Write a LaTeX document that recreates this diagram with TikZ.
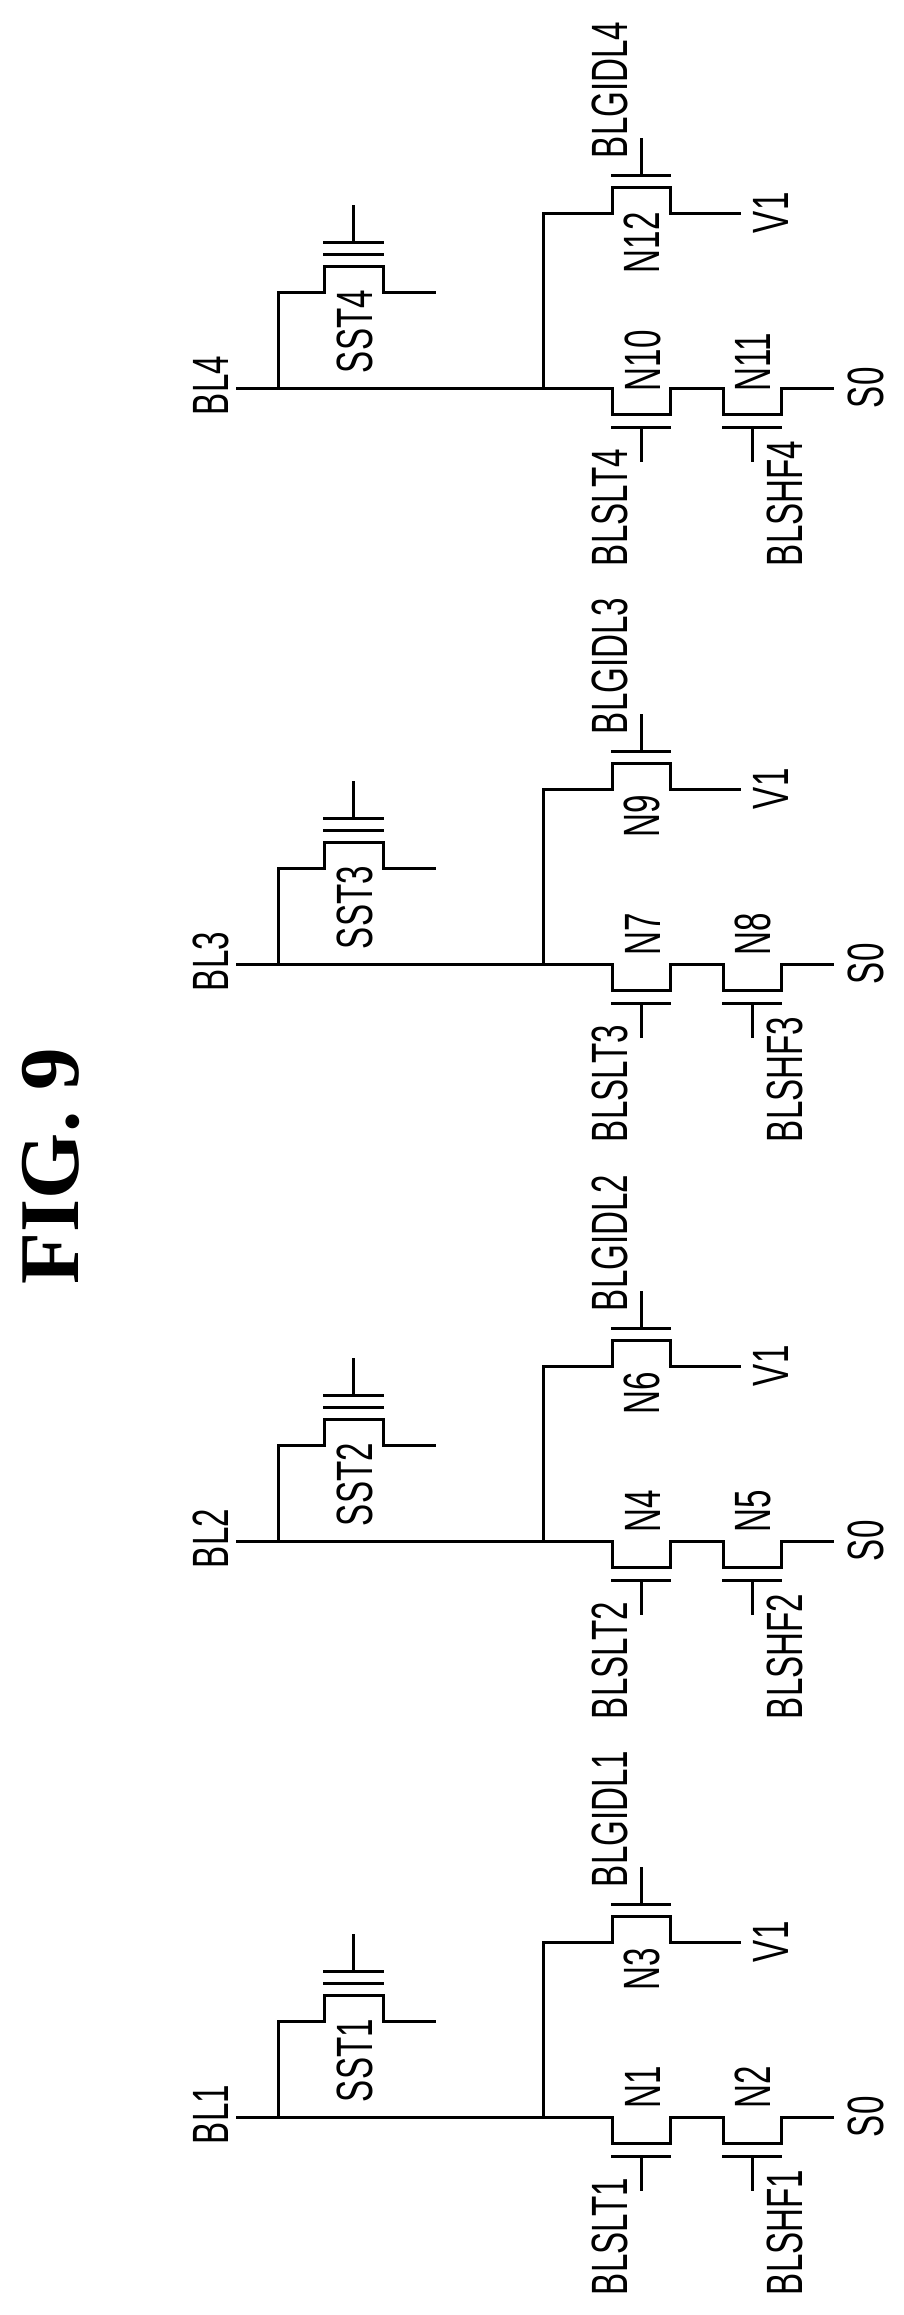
\documentclass[tikz,border=0pt]{standalone}
\usepackage{fontspec}
\newfontfamily\lab[FakeStretch=0.65]{Liberation Sans}
\newfontfamily\figf[Scale=1]{Liberation Serif}
\tikzset{
  wire/.style={line width=3pt,black,line join=miter},
  lbl/.style={rotate=90,anchor=base west,inner sep=0pt,outer sep=0pt,font=\lab\fontsize{51pt}{51pt}\selectfont,text=black},
  figlbl/.style={rotate=90,anchor=base west,inner sep=0pt,outer sep=0pt,font=\figf\bfseries\fontsize{85pt}{85pt}\selectfont,text=black}
}
\begin{document}
\begin{tikzpicture}[x=1pt,y=-1pt]
\useasboundingbox (0,0) rectangle (904,2315);
\node[figlbl] (fig) at (78,1284) {FIG. 9};
\foreach \g/\m/\na/\nb/\nc/\sa/\sb in {
  1/2117/N3/N1/N2/-127/-9,
  2/1541/N6/N4/N5/-127/-9,
  3/964/N9/N7/N8/-127/-9,
  4/388/N12/N10/N11/-115/3}{
  % named points
  \coordinate (bl\g) at (236,\m);
  \coordinate (sj\g) at (278,\m);
  \coordinate (gj\g) at (543,\m);
  \coordinate (s1\g) at (612,\m);
  \coordinate (d1\g) at (670,\m);
  \coordinate (s2\g) at (723,\m);
  \coordinate (d2\g) at (781,\m);
  \coordinate (so\g) at (834,\m);
  \coordinate (ss\g) at (324,\m-96);
  \coordinate (sd\g) at (383,\m-96);
  \coordinate (se\g) at (436,\m-96);
  \coordinate (gs\g) at (612,\m-175);
  \coordinate (gd\g) at (670,\m-175);
  \coordinate (v\g) at (741,\m-175);
  % main line and transistors N1/N2 types
  \draw[wire] (bl\g) -- (s1\g) -- ++(0,26) -- ++(58,0) -- (d1\g) -- (s2\g) -- ++(0,26) -- ++(58,0) -- (d2\g) -- (so\g);
  \draw[wire] (gj\g) |- (gs\g) -- ++(0,-26) -- ++(58,0) -- (gd\g) -- (v\g);
  \draw[wire] (sj\g) |- (ss\g) -- ++(0,-26) -- ++(59,0) -- (sd\g) -- (se\g);
  % gates
  \draw[wire] (323,\m-146) -- (384,\m-146);
  \draw[wire] (323,\m-134) -- (384,\m-134);
  \draw[wire] (353,\m-146) -- (353,\m-183);
  \draw[wire] (611,\m-213) -- (671,\m-213);
  \draw[wire] (641,\m-213) -- (641,\m-250);
  \draw[wire] (611,\m+39) -- (671,\m+39);
  \draw[wire] (641,\m+39) -- (641,\m+74);
  \draw[wire] (722,\m+39) -- (782,\m+39);
  \draw[wire] (752,\m+39) -- (752,\m+74);
  % labels
  \node[lbl] (tbl\g) at (228,\m+27) {BL\g};
  \node[lbl] (tsst\g) at (372,\m-15) {SST\g};
  \node[lbl] (tgidl\g) at (627,\m-230) {BLGIDL\g};
  \node[lbl] (tslt\g) at (627,\m+178) {BLSLT\g};
  \node[lbl] (tshf\g) at (802,\m+178) {BLSHF\g};
  \node[lbl] (tv\g) at (788,\m-155) {V1};
  \node[lbl] (tso\g) at (883,\m+20) {S0};
  \node[lbl] (tna\g) at (659,\m+\sa) {\na};
  \node[lbl] (tnb\g) at (660,\m+\sb) {\nb};
  \node[lbl] (tnc\g) at (770,\m+\sb) {\nc};
}
\end{tikzpicture}
\end{document}
